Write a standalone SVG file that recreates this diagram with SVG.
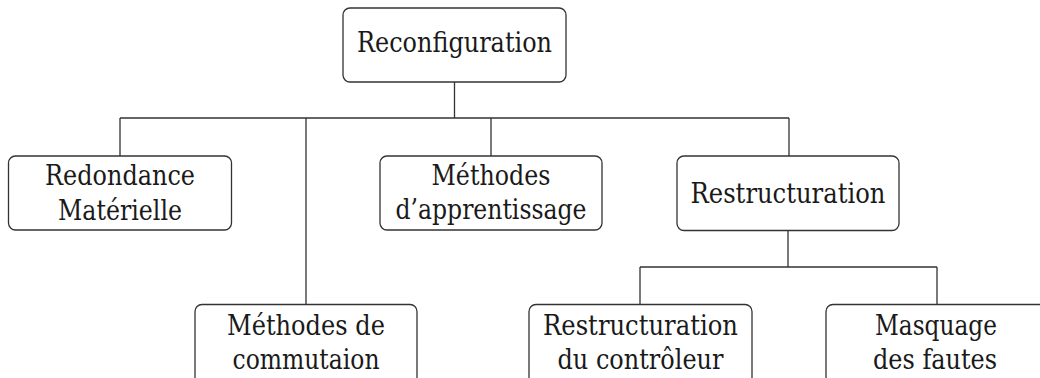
<svg xmlns="http://www.w3.org/2000/svg" width="1040" height="378" viewBox="0 0 1040 378">
<style>
.box{fill:#fff;stroke:#333;stroke-width:1.3}
.con{fill:none;stroke:#333;stroke-width:1.3}
.t{font-family:"DejaVu Serif",serif;font-size:27px;fill:#1a1a1a;text-anchor:middle}
</style>
<rect width="1040" height="378" fill="#fff"/>
<g id="connectors">
<path class="con" d="M454.5,82V118M120,118H789M120,118V156M306,118V304M491,118V156M789,118V156"/>
<path class="con" d="M788,230V267M640,267H937M640,267V304M937,267V304"/>
</g>
<g id="n-reconfiguration">
<rect class="box" x="343" y="8" width="223" height="74" rx="7"/>
<text class="t" x="454.5" y="52" textLength="195" lengthAdjust="spacingAndGlyphs">Reconfiguration</text>
</g>
<g id="n-redondance">
<rect class="box" x="8.5" y="156" width="223" height="74" rx="7"/>
<text class="t" x="120" y="185" textLength="150" lengthAdjust="spacingAndGlyphs">Redondance</text>
<text class="t" x="120" y="220" textLength="124" lengthAdjust="spacingAndGlyphs">Matérielle</text>
</g>
<g id="n-apprentissage">
<rect class="box" x="380" y="156" width="222" height="74" rx="7"/>
<text class="t" x="491" y="185" textLength="119" lengthAdjust="spacingAndGlyphs">Méthodes</text>
<text class="t" x="491" y="219" textLength="191" lengthAdjust="spacingAndGlyphs">d’apprentissage</text>
</g>
<g id="n-restructuration">
<rect class="box" x="677" y="156" width="222" height="74.5" rx="7"/>
<text class="t" x="788" y="203" textLength="195" lengthAdjust="spacingAndGlyphs">Restructuration</text>
</g>
<g id="n-commutaion">
<rect class="box" x="195" y="304.5" width="222" height="80" rx="7"/>
<text class="t" x="306" y="335" textLength="158" lengthAdjust="spacingAndGlyphs">Méthodes de</text>
<text class="t" x="306" y="369" textLength="147" lengthAdjust="spacingAndGlyphs">commutaion</text>
</g>
<g id="n-restr-controleur">
<rect class="box" x="529" y="304.5" width="223" height="80" rx="7"/>
<text class="t" x="640.5" y="335" textLength="195" lengthAdjust="spacingAndGlyphs">Restructuration</text>
<text class="t" x="640.5" y="369" textLength="166" lengthAdjust="spacingAndGlyphs">du contrôleur</text>
</g>
<g id="n-masquage">
<rect class="box" x="826" y="304.5" width="222" height="80" rx="7"/>
<text class="t" x="936" y="335" textLength="122" lengthAdjust="spacingAndGlyphs">Masquage</text>
<text class="t" x="935" y="369" textLength="124" lengthAdjust="spacingAndGlyphs">des fautes</text>
</g>
</svg>
